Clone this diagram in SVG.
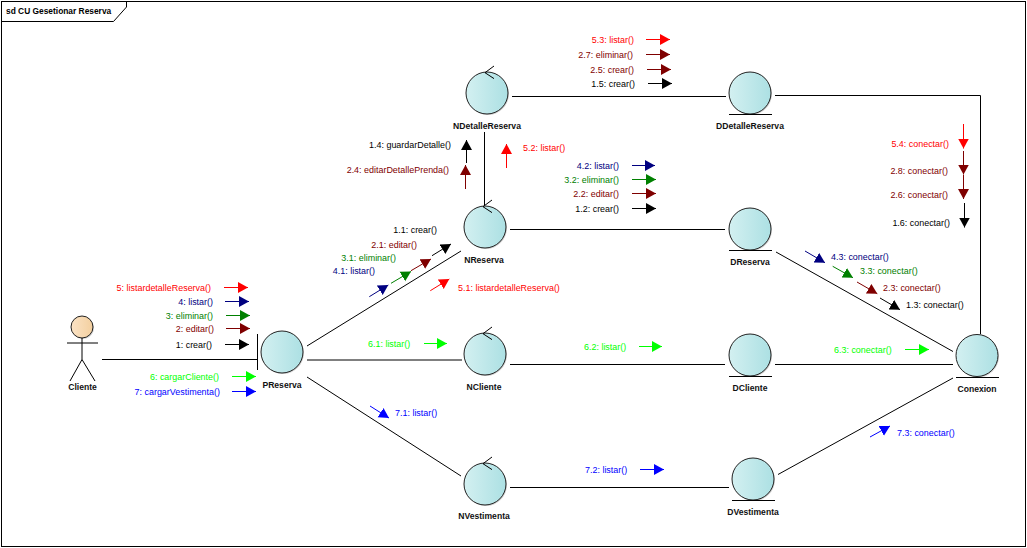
<svg xmlns="http://www.w3.org/2000/svg" width="1027" height="548" viewBox="0 0 1027 548">
<style>
text{font-family:"Liberation Sans",Arial,sans-serif;font-size:8.95px}
.n{font-weight:bold;font-size:8.6px;text-anchor:middle;fill:#111}
.e{text-anchor:end}
.c{fill:none;stroke:#000;stroke-width:1}
.body{fill:url(#g);stroke:#222;stroke-width:1}
.sh{fill:#000;fill-opacity:.16}
.k{stroke:#000;fill:none}.kt{fill:#000}
.m{stroke:#7f0000;fill:none}.mt{fill:#7f0000}
.v{stroke:#008000;fill:none}.vt{fill:#008000}
.a{stroke:#000080;fill:none}.at{fill:#000080}
.r{stroke:#ff0000;fill:none}.rt{fill:#ff0000}
.l{stroke:#00ff00;fill:none}.lt{fill:#00ff00}
.b{stroke:#0000ff;fill:none}.bt{fill:#0000ff}
</style>
<defs>
<linearGradient id="g"><stop offset="0" stop-color="#d3f0f1"/><stop offset="1" stop-color="#ace0e3"/></linearGradient>
<linearGradient id="h"><stop offset="0" stop-color="#fbe3c5"/><stop offset="1" stop-color="#f3cf9f"/></linearGradient>
<marker id="mk" markerUnits="userSpaceOnUse" markerWidth="11" markerHeight="13" refX="10" refY="6" orient="auto"><path d="M0,.5 10,6 0,11.500z" fill="#000"/></marker>
<marker id="mm" markerUnits="userSpaceOnUse" markerWidth="11" markerHeight="13" refX="10" refY="6" orient="auto"><path d="M0,.5 10,6 0,11.500z" fill="#7f0000"/></marker>
<marker id="mv" markerUnits="userSpaceOnUse" markerWidth="11" markerHeight="13" refX="10" refY="6" orient="auto"><path d="M0,.5 10,6 0,11.500z" fill="#008000"/></marker>
<marker id="ma" markerUnits="userSpaceOnUse" markerWidth="11" markerHeight="13" refX="10" refY="6" orient="auto"><path d="M0,.5 10,6 0,11.500z" fill="#000080"/></marker>
<marker id="mr" markerUnits="userSpaceOnUse" markerWidth="11" markerHeight="13" refX="10" refY="6" orient="auto"><path d="M0,.5 10,6 0,11.500z" fill="#ff0000"/></marker>
<marker id="ml" markerUnits="userSpaceOnUse" markerWidth="11" markerHeight="13" refX="10" refY="6" orient="auto"><path d="M0,.5 10,6 0,11.500z" fill="#00ff00"/></marker>
<marker id="mb" markerUnits="userSpaceOnUse" markerWidth="11" markerHeight="13" refX="10" refY="6" orient="auto"><path d="M0,.5 10,6 0,11.500z" fill="#0000ff"/></marker>
</defs>
<rect width="1027" height="548" fill="#fff"/>
<g id="frame">
<rect x="1.500" y="1.500" width="1024" height="545" fill="none" stroke="#000"/>
<path d="M1.500,21.500H113.500L126.500,7V1.500" fill="none" stroke="#000"/>
<text x="6" y="14" font-weight="bold" style="font-size:8.4px">sd CU Gesetionar Reserva</text>
</g>
<g id="connectors">
<path class="c" d="M102,359.500H257"/>
<path class="c" d="M307,346L461,251"/>
<path class="c" d="M307,360H462"/>
<path class="c" d="M307,377L461,476"/>
<path class="c" d="M484.500,132V205"/>
<path class="c" d="M512,96.500H726"/>
<path class="c" d="M510,229.500H725"/>
<path class="c" d="M510,364.500H725"/>
<path class="c" d="M510,487.500H729"/>
<path class="c" d="M775,95.500H980.500V334"/>
<path class="c" d="M776,252L953,351.500"/>
<path class="c" d="M775,364.500H953"/>
<path class="c" d="M778,474.500L953,378"/>
</g>
<g id="message-arrows" stroke-width="1">
<path class="r" marker-end="url(#mr)" d="M224,287.500H248"/>
<path class="a" marker-end="url(#ma)" d="M225,301.500H249"/>
<path class="v" marker-end="url(#mv)" d="M226,315.500H250"/>
<path class="m" marker-end="url(#mm)" d="M226,328.500H250"/>
<path class="k" marker-end="url(#mk)" d="M225,344.500H249"/>
<path class="l" marker-end="url(#ml)" d="M232,376.500H256"/>
<path class="b" marker-end="url(#mb)" d="M232,391.500H256"/>
<path class="k" marker-end="url(#mk)" d="M466.500,163V140"/>
<path class="m" marker-end="url(#mm)" d="M465.500,189V165"/>
<path class="r" marker-end="url(#mr)" d="M506.500,168V144"/>
<path class="k" marker-end="url(#mk)" d="M432,255.700L451,244"/>
<path class="m" marker-end="url(#mm)" d="M411,270.700L431,259"/>
<path class="v" marker-end="url(#mv)" d="M391,283.300L411,271.500"/>
<path class="a" marker-end="url(#ma)" d="M369.300,296.700L388.300,285"/>
<path class="r" marker-end="url(#mr)" d="M430.300,290.700L449.300,279"/>
<path class="r" marker-end="url(#mr)" d="M646,39.500H670"/>
<path class="m" marker-end="url(#mm)" d="M646,54.500H670"/>
<path class="m" marker-end="url(#mm)" d="M647,69.500H671"/>
<path class="k" marker-end="url(#mk)" d="M648,83.500H672"/>
<path class="a" marker-end="url(#ma)" d="M632,165.500H655"/>
<path class="v" marker-end="url(#mv)" d="M632,179.500H656"/>
<path class="m" marker-end="url(#mm)" d="M632,193.500H656"/>
<path class="k" marker-end="url(#mk)" d="M632,208.500H656"/>
<path class="r" marker-end="url(#mr)" d="M963.500,124V148.500"/>
<path class="m" marker-end="url(#mm)" d="M963.500,151V174.500"/>
<path class="m" marker-end="url(#mm)" d="M963.500,175V199"/>
<path class="k" marker-end="url(#mk)" d="M964.500,203V227.500"/>
<path class="a" marker-end="url(#ma)" d="M805,251L825,262.700"/>
<path class="v" marker-end="url(#mv)" d="M832.700,266.300L853,277.700"/>
<path class="m" marker-end="url(#mm)" d="M857,282L877.300,293.700"/>
<path class="k" marker-end="url(#mk)" d="M880,298L900,309.700"/>
<path class="l" marker-end="url(#ml)" d="M905,349.500H929"/>
<path class="l" marker-end="url(#ml)" d="M424,343.500H447"/>
<path class="l" marker-end="url(#ml)" d="M639,346.500H662"/>
<path class="b" marker-end="url(#mb)" d="M370,406L389,418"/>
<path class="b" marker-end="url(#mb)" d="M640,469.500H664"/>
<path class="b" marker-end="url(#mb)" d="M870,437L890,426"/>
</g>
<g id="message-labels">
<text class="e rt" x="211" y="291">5: listardetalleReserva()</text>
<text class="e at" x="213" y="305">4: listar()</text>
<text class="e vt" x="213" y="319">3: eliminar()</text>
<text class="e mt" x="214" y="332">2: editar()</text>
<text class="e kt" x="212" y="348">1: crear()</text>
<text class="e lt" x="219" y="380">6: cargarCliente()</text>
<text class="e bt" x="220" y="395">7: cargarVestimenta()</text>
<text class="e kt" x="451" y="148">1.4: guardarDetalle()</text>
<text class="e mt" x="449" y="173">2.4: editarDetallePrenda()</text>
<text class="rt" x="523" y="151">5.2: listar()</text>
<text class="e kt" x="437" y="233">1.1: crear()</text>
<text class="e mt" x="417" y="248">2.1: editar()</text>
<text class="e vt" x="396" y="261">3.1: eliminar()</text>
<text class="e at" x="375" y="274">4.1: listar()</text>
<text class="rt" x="458" y="291">5.1: listardetalleReserva()</text>
<text class="e rt" x="634" y="43">5.3: listar()</text>
<text class="e mt" x="633" y="58">2.7: eliminar()</text>
<text class="e mt" x="634" y="73">2.5: crear()</text>
<text class="e kt" x="635" y="87">1.5: crear()</text>
<text class="e at" x="619" y="169">4.2: listar()</text>
<text class="e vt" x="619" y="183">3.2: eliminar()</text>
<text class="e mt" x="619" y="197">2.2: editar()</text>
<text class="e kt" x="619" y="212">1.2: crear()</text>
<text class="e rt" x="949" y="147">5.4: conectar()</text>
<text class="e mt" x="948" y="174">2.8: conectar()</text>
<text class="e mt" x="948" y="198">2.6: conectar()</text>
<text class="e kt" x="950" y="226">1.6: conectar()</text>
<text class="at" x="831" y="260">4.3: conectar()</text>
<text class="vt" x="860" y="274">3.3: conectar()</text>
<text class="mt" x="883" y="291">2.3: conectar()</text>
<text class="kt" x="906" y="308">1.3: conectar()</text>
<text class="lt" x="834" y="353">6.3: conectar()</text>
<text class="lt" x="368" y="347">6.1: listar()</text>
<text class="lt" x="584" y="350">6.2: listar()</text>
<text class="bt" x="395" y="416">7.1: listar()</text>
<text class="bt" x="585" y="473">7.2: listar()</text>
<text class="bt" x="897" y="436">7.3: conectar()</text>
</g>
<g id="Cliente">
<circle class="sh" cx="83" cy="328" r="11"/>
<circle cx="82" cy="327" r="11" fill="url(#h)" stroke="#222"/>
<path class="c" d="M82,338V359.500M67,343H98M82,359.500L70,381M82,359.500L95,381"/>
<text class="n" x="82.500" y="390">Cliente</text>
</g>
<g id="PReserva">
<circle class="sh" cx="283" cy="353" r="21"/>
<circle class="body" cx="282" cy="352" r="21"/>
<path class="c" d="M257.500,334V370"/>
<text class="n" x="282" y="388">PReserva</text>
</g>
<g id="NDetalleReserva">
<circle class="sh" cx="488" cy="94" r="21"/>
<circle class="body" cx="487" cy="93" r="21"/>
<path class="c" d="M494,66L485,72.700L494,78.600"/>
<text class="n" x="487" y="129">NDetalleReserva</text>
</g>
<g id="NReserva">
<circle class="sh" cx="486" cy="228" r="21"/>
<circle class="body" cx="485" cy="227" r="21"/>
<path class="c" d="M492,200L483,206.700L492,212.600"/>
<text class="n" x="484" y="263">NReserva</text>
</g>
<g id="NCliente">
<circle class="sh" cx="486" cy="355" r="21"/>
<circle class="body" cx="485" cy="354" r="21"/>
<path class="c" d="M492,327L483,333.700L492,339.600"/>
<text class="n" x="484" y="390">NCliente</text>
</g>
<g id="NVestimenta">
<circle class="sh" cx="486" cy="485" r="21"/>
<circle class="body" cx="485" cy="484" r="21"/>
<path class="c" d="M492,457L483,463.700L492,469.600"/>
<text class="n" x="484" y="519">NVestimenta</text>
</g>
<g id="DDetalleReserva">
<circle class="sh" cx="751" cy="94" r="21"/>
<circle class="body" cx="750" cy="93" r="21"/>
<path class="c" d="M729,114.500H772"/>
<text class="n" x="750" y="129">DDetalleReserva</text>
</g>
<g id="DReserva">
<circle class="sh" cx="751" cy="230" r="21"/>
<circle class="body" cx="750" cy="229" r="21"/>
<path class="c" d="M729,250.500H772"/>
<text class="n" x="750" y="265">DReserva</text>
</g>
<g id="DCliente">
<circle class="sh" cx="751" cy="356" r="21"/>
<circle class="body" cx="750" cy="355" r="21"/>
<path class="c" d="M729,376.500H772"/>
<text class="n" x="750" y="391">DCliente</text>
</g>
<g id="DVestimenta">
<circle class="sh" cx="754" cy="480" r="21"/>
<circle class="body" cx="753" cy="479" r="21"/>
<path class="c" d="M732,500.500H775"/>
<text class="n" x="753" y="515">DVestimenta</text>
</g>
<g id="Conexion">
<circle class="sh" cx="978" cy="356.500" r="21"/>
<circle class="body" cx="977" cy="355.500" r="21"/>
<path class="c" d="M956,377.500H999"/>
<text class="n" x="977" y="392">Conexion</text>
</g>
</svg>
